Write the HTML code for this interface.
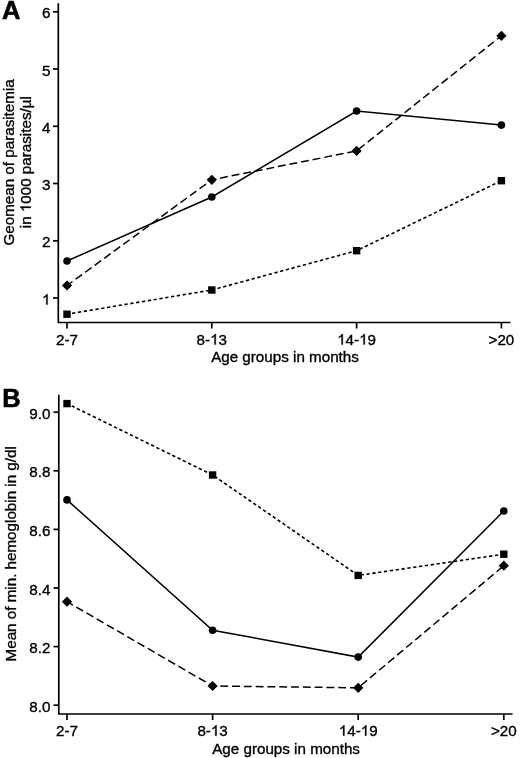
<!DOCTYPE html>
<html><head><meta charset="utf-8"><style>
html,body{margin:0;padding:0;background:#fff;}
body{width:520px;height:758px;overflow:hidden;}
svg{display:block;filter:blur(0.35px);font-family:"Liberation Sans",sans-serif;font-size:15.2px;}
text,.one{stroke:#000;stroke-width:0.35px;}
</style></head><body>
<svg width="520" height="758" viewBox="0 0 520 758">
<rect width="520" height="758" fill="#fff"/>
<path d="M58.3 3.2 V322.5 H510.5" fill="none" stroke="#000" stroke-width="1.7" stroke-linejoin="miter" stroke-linecap="butt"/>
<line x1="53.0" y1="11.8" x2="58.3" y2="11.8" stroke="#000" stroke-width="1.7"/>
<text x="50.4" y="18.4" text-anchor="end">6</text>
<line x1="53.0" y1="69.0" x2="58.3" y2="69.0" stroke="#000" stroke-width="1.7"/>
<text x="50.4" y="75.6" text-anchor="end">5</text>
<line x1="53.0" y1="126.3" x2="58.3" y2="126.3" stroke="#000" stroke-width="1.7"/>
<text x="50.4" y="132.9" text-anchor="end">4</text>
<line x1="53.0" y1="183.5" x2="58.3" y2="183.5" stroke="#000" stroke-width="1.7"/>
<text x="50.4" y="190.1" text-anchor="end">3</text>
<line x1="53.0" y1="240.8" x2="58.3" y2="240.8" stroke="#000" stroke-width="1.7"/>
<text x="50.4" y="247.4" text-anchor="end">2</text>
<line x1="53.0" y1="298" x2="58.3" y2="298" stroke="#000" stroke-width="1.7"/>
<text x="50.4" y="304.6" text-anchor="end"> </text><path class="one" d="M47.61 304.60L46.27 304.60L46.27 296.42Q45.79 296.86 45.01 297.30Q44.22 297.74 43.60 297.96L43.60 296.73Q44.72 296.22 45.56 295.50Q46.40 294.78 46.75 294.14L47.61 294.14Z"/>
<line x1="67" y1="322.5" x2="67" y2="328.5" stroke="#000" stroke-width="1.7"/>
<text x="67" y="344.5" text-anchor="middle">2-7</text>
<line x1="211.8" y1="322.5" x2="211.8" y2="328.5" stroke="#000" stroke-width="1.7"/>
<text x="211.8" y="344.5" text-anchor="middle">8- 3</text><path class="one" d="M215.77 344.50L214.43 344.50L214.43 336.32Q213.95 336.76 213.17 337.20Q212.38 337.64 211.76 337.86L211.76 336.63Q212.88 336.12 213.72 335.40Q214.56 334.68 214.91 334.04L215.77 334.04Z"/>
<line x1="356.6" y1="322.5" x2="356.6" y2="328.5" stroke="#000" stroke-width="1.7"/>
<text x="356.6" y="344.5" text-anchor="middle"> 4- 9</text><path class="one" d="M342.82 344.50L341.49 344.50L341.49 336.32Q341.01 336.76 340.23 337.20Q339.44 337.64 338.82 337.86L338.82 336.63Q339.94 336.12 340.78 335.40Q341.62 334.68 341.96 334.04L342.82 334.04ZM364.79 344.50L363.46 344.50L363.46 336.32Q362.98 336.76 362.20 337.20Q361.41 337.64 360.79 337.86L360.79 336.63Q361.91 336.12 362.75 335.40Q363.58 334.68 363.93 334.04L364.79 334.04Z"/>
<line x1="501.4" y1="322.5" x2="501.4" y2="328.5" stroke="#000" stroke-width="1.7"/>
<text x="501.4" y="344.5" text-anchor="middle">&gt;20</text>
<text x="285" y="361.9" text-anchor="middle">Age groups in months</text>
<text transform="translate(13.5 162.4) rotate(-90)" x="0" y="0" text-anchor="middle">Geomean of parasitemia</text>
<text transform="translate(30.8 162.2) rotate(-90)" x="0" y="0" text-anchor="middle">in  000 parasites/µl</text><path class="one" d="M30.80 206.55L30.80 207.88L22.62 207.88Q23.06 208.36 23.50 209.14Q23.94 209.93 24.16 210.55L22.93 210.55Q22.42 209.43 21.70 208.59Q20.98 207.76 20.34 207.41L20.34 206.55Z"/>
<text x="1.9" y="19.2" font-weight="bold" style="stroke-width:0.6px" font-size="25.5">A</text>
<polyline points="67,314.2 211.8,290 356.6,250.7 501.4,180.7" fill="none" stroke="#000" stroke-width="1.6" stroke-dasharray="3.3 2.6" stroke-dashoffset="0.73"/>
<polyline points="67,285.5 211.8,179.8 356.6,150.9 501.4,35.8" fill="none" stroke="#000" stroke-width="1.5" stroke-dasharray="7.9 3.9" stroke-dashoffset="1.1"/>
<polyline points="67,261 211.8,197 356.6,111 501.4,125.1" fill="none" stroke="#000" stroke-width="1.5"/>
<rect x="63.30" y="310.50" width="7.4" height="7.4"/>
<rect x="208.10" y="286.30" width="7.4" height="7.4"/>
<rect x="352.90" y="247.00" width="7.4" height="7.4"/>
<rect x="497.70" y="177.00" width="7.4" height="7.4"/>
<path d="M67 280.40 L72.10 285.5 L67 290.60 L61.90 285.5Z"/>
<path d="M211.8 174.70 L216.90 179.8 L211.8 184.90 L206.70 179.8Z"/>
<path d="M356.6 145.80 L361.70 150.9 L356.6 156.00 L351.50 150.9Z"/>
<path d="M501.4 30.70 L506.50 35.8 L501.4 40.90 L496.30 35.8Z"/>
<circle cx="67" cy="261" r="3.8"/>
<circle cx="211.8" cy="197" r="3.8"/>
<circle cx="356.6" cy="111" r="3.8"/>
<circle cx="501.4" cy="125.1" r="3.8"/>
<path d="M58.8 394.8 V714 H512.6" fill="none" stroke="#000" stroke-width="1.7" stroke-linejoin="miter" stroke-linecap="butt"/>
<line x1="53.5" y1="412.2" x2="58.8" y2="412.2" stroke="#000" stroke-width="1.7"/>
<text x="50.4" y="418.8" text-anchor="end">9.0</text>
<line x1="53.5" y1="470.8" x2="58.8" y2="470.8" stroke="#000" stroke-width="1.7"/>
<text x="50.4" y="477.40000000000003" text-anchor="end">8.8</text>
<line x1="53.5" y1="529.4" x2="58.8" y2="529.4" stroke="#000" stroke-width="1.7"/>
<text x="50.4" y="536.0" text-anchor="end">8.6</text>
<line x1="53.5" y1="588.0" x2="58.8" y2="588.0" stroke="#000" stroke-width="1.7"/>
<text x="50.4" y="594.6" text-anchor="end">8.4</text>
<line x1="53.5" y1="646.6" x2="58.8" y2="646.6" stroke="#000" stroke-width="1.7"/>
<text x="50.4" y="653.2" text-anchor="end">8.2</text>
<line x1="53.5" y1="705.2" x2="58.8" y2="705.2" stroke="#000" stroke-width="1.7"/>
<text x="50.4" y="711.8000000000001" text-anchor="end">8.0</text>
<line x1="67" y1="714" x2="67" y2="720" stroke="#000" stroke-width="1.7"/>
<text x="67" y="735.8" text-anchor="middle">2-7</text>
<line x1="212.6" y1="714" x2="212.6" y2="720" stroke="#000" stroke-width="1.7"/>
<text x="212.6" y="735.8" text-anchor="middle">8- 3</text><path class="one" d="M216.57 735.80L215.23 735.80L215.23 727.62Q214.75 728.06 213.97 728.50Q213.18 728.94 212.56 729.16L212.56 727.93Q213.68 727.42 214.52 726.70Q215.36 725.98 215.71 725.34L216.57 725.34Z"/>
<line x1="358.2" y1="714" x2="358.2" y2="720" stroke="#000" stroke-width="1.7"/>
<text x="358.2" y="735.8" text-anchor="middle"> 4- 9</text><path class="one" d="M344.42 735.80L343.09 735.80L343.09 727.62Q342.61 728.06 341.83 728.50Q341.04 728.94 340.42 729.16L340.42 727.93Q341.54 727.42 342.38 726.70Q343.22 725.98 343.56 725.34L344.42 725.34ZM366.39 735.80L365.06 735.80L365.06 727.62Q364.58 728.06 363.80 728.50Q363.01 728.94 362.39 729.16L362.39 727.93Q363.51 727.42 364.35 726.70Q365.18 725.98 365.53 725.34L366.39 725.34Z"/>
<line x1="503.8" y1="714" x2="503.8" y2="720" stroke="#000" stroke-width="1.7"/>
<text x="503.8" y="735.8" text-anchor="middle">&gt;20</text>
<text x="286.1" y="754.1" text-anchor="middle">Age groups in months</text>
<text transform="translate(16.3 553.8) rotate(-90)" x="0" y="0" text-anchor="middle">Mean of min. hemoglobin in g/dl</text>
<text x="2.3" y="406.8" font-weight="bold" style="stroke-width:0.6px" font-size="25.5">B</text>
<polyline points="67,403.6 212.6,475 358.2,575.4 503.8,554.2" fill="none" stroke="#000" stroke-width="1.6" stroke-dasharray="3.3 2.6" stroke-dashoffset="0.73"/>
<polyline points="67,601.7 212.6,686 358.2,687.8 503.8,565.7" fill="none" stroke="#000" stroke-width="1.5" stroke-dasharray="7.9 3.9" stroke-dashoffset="1.1"/>
<polyline points="67,499.9 212.6,630.2 358.2,657.1 503.8,511" fill="none" stroke="#000" stroke-width="1.5"/>
<rect x="63.30" y="399.90" width="7.4" height="7.4"/>
<rect x="208.90" y="471.30" width="7.4" height="7.4"/>
<rect x="354.50" y="571.70" width="7.4" height="7.4"/>
<rect x="500.10" y="550.50" width="7.4" height="7.4"/>
<path d="M67 596.60 L72.10 601.7 L67 606.80 L61.90 601.7Z"/>
<path d="M212.6 680.90 L217.70 686 L212.6 691.10 L207.50 686Z"/>
<path d="M358.2 682.70 L363.30 687.8 L358.2 692.90 L353.10 687.8Z"/>
<path d="M503.8 560.60 L508.90 565.7 L503.8 570.80 L498.70 565.7Z"/>
<circle cx="67" cy="499.9" r="3.8"/>
<circle cx="212.6" cy="630.2" r="3.8"/>
<circle cx="358.2" cy="657.1" r="3.8"/>
<circle cx="503.8" cy="511" r="3.8"/>
</svg>
</body></html>
